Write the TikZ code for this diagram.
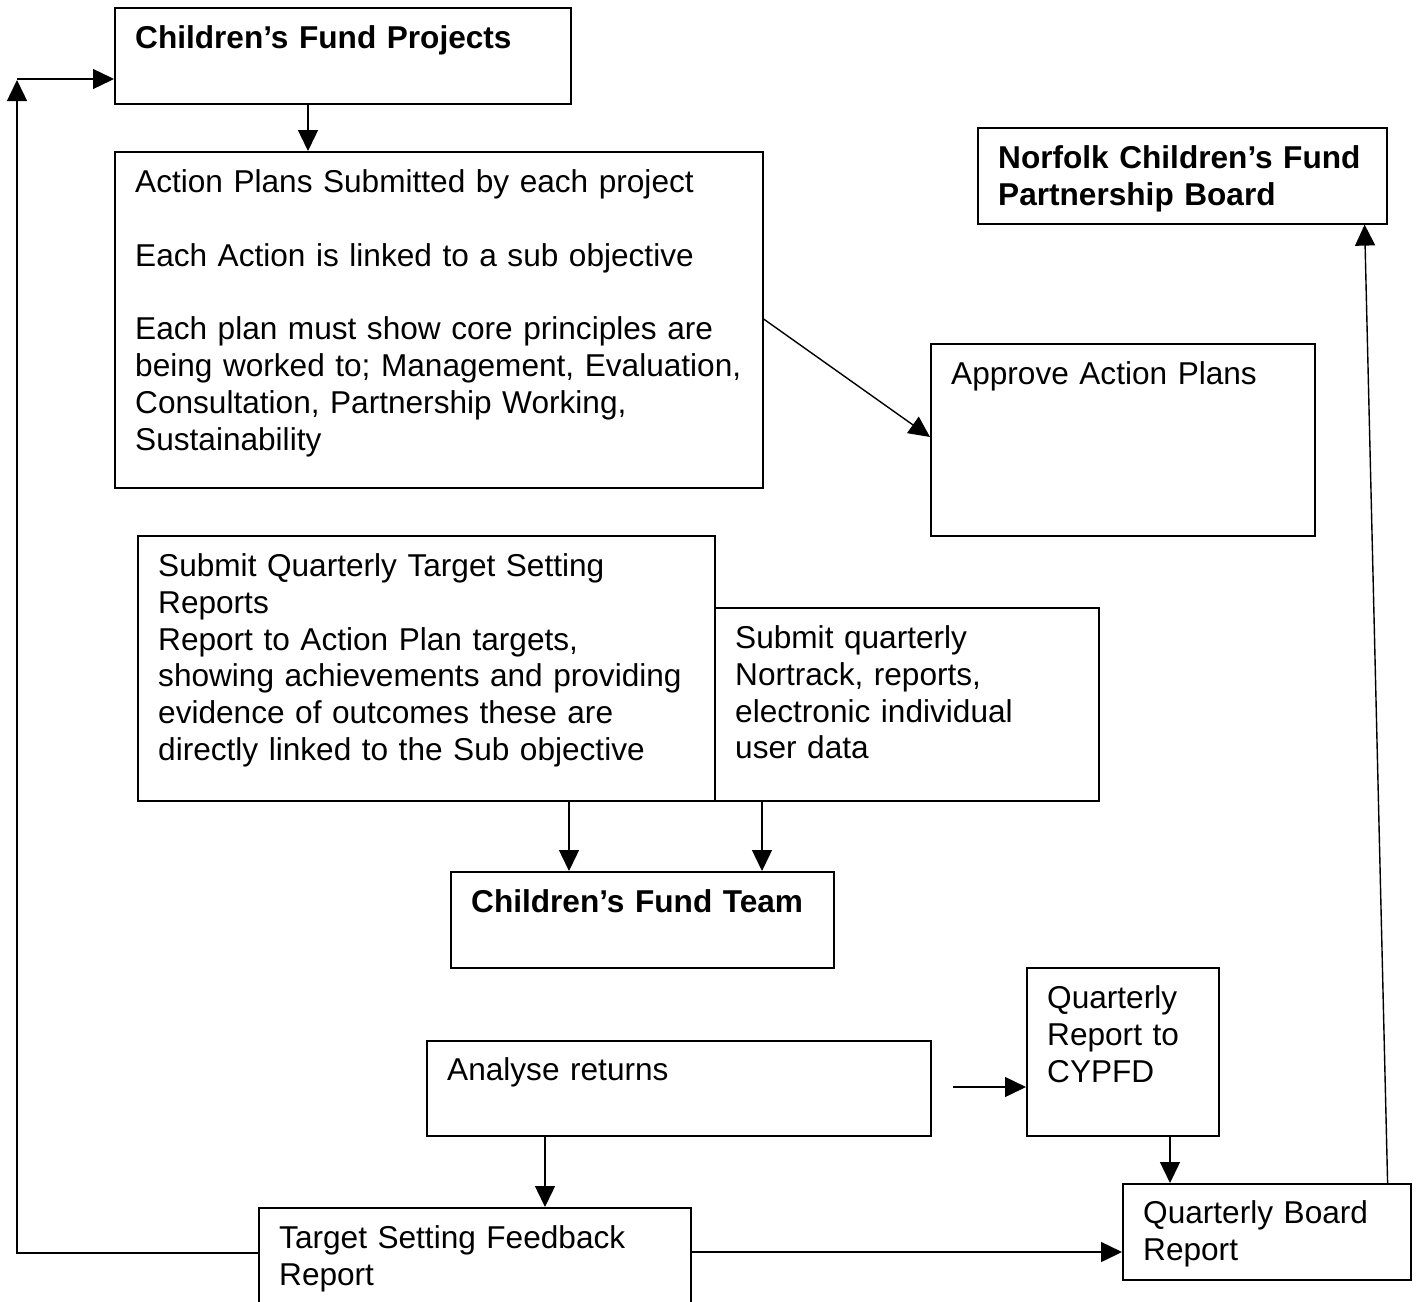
\documentclass[tikz,border=0pt]{standalone}
\usepackage{fontspec}
\setmainfont{Liberation Sans}
\usetikzlibrary{arrows.meta}
\begin{document}
\begin{tikzpicture}[x=1pt,y=-1pt,
  box/.style={draw, line width=1.6pt, anchor=north west, inner sep=0pt},
  txt/.style={anchor=base west, inner sep=0pt, align=left, text width=#1, font=\fontsize{31.6}{36.8}\selectfont},
  arr/.style={line width=1.4pt, -{Triangle[length=21pt,width=20pt]}},
  lin/.style={line width=1.4pt}]
\clip (0,0) rectangle (1416,1301);
\fill[white] (0,0) rectangle (1416,1301);
% boxes
\node[box, minimum width=456pt, minimum height=96pt] (proj) at (114,7) {};
\node[box, minimum width=648pt, minimum height=336pt] (plans) at (114,151) {};
\node[box, minimum width=409pt, minimum height=96pt] (norfolk) at (977,127) {};
\node[box, minimum width=384pt, minimum height=192pt] (approve) at (930,343) {};
\node[box, minimum width=577pt, minimum height=265pt] (submitq) at (137,535) {};
\node[box, minimum width=384pt, minimum height=193pt] (nortrack) at (714,607) {};
\node[box, minimum width=383pt, minimum height=96pt] (team) at (450,871) {};
\node[box, minimum width=192pt, minimum height=168pt] (cypfd) at (1026,967) {};
\node[box, minimum width=504pt, minimum height=95pt] (analyse) at (426,1040) {};
\node[box, minimum width=288pt, minimum height=96pt] (board) at (1122,1183) {};
\node[box, minimum width=432pt, minimum height=130pt] (feedback) at (258,1207) {};
% texts
\node[txt=426pt] (projT) at ([xshift=21pt,yshift=-41.5pt]proj.north west) {\textbf{Children’s Fund Projects}};
\node[txt=618pt] (plansT) at ([xshift=21pt,yshift=-41.5pt]plans.north west) {Action Plans Submitted by each project\\[36.8pt]
Each Action is linked to a sub objective\\[36.8pt]
Each plan must show core principles are\\
being worked to; Management, Evaluation,\\
Consultation, Partnership Working,\\
Sustainability};
\node[txt=379pt] (norfolkT) at ([xshift=21pt,yshift=-41.5pt]norfolk.north west) {\textbf{Norfolk Children’s Fund}\\\textbf{Partnership Board}};
\node[txt=354pt] (approveT) at ([xshift=21pt,yshift=-41.5pt]approve.north west) {Approve Action Plans};
\node[txt=547pt] (submitqT) at ([xshift=21pt,yshift=-41.5pt]submitq.north west) {Submit Quarterly Target Setting\\
Reports\\
Report to Action Plan targets,\\
showing achievements and providing\\
evidence of outcomes these are\\
directly linked to the Sub objective};
\node[txt=354pt] (nortrackT) at ([xshift=21pt,yshift=-41.5pt]nortrack.north west) {Submit quarterly\\Nortrack, reports,\\electronic individual\\user data};
\node[txt=353pt] (teamT) at ([xshift=21pt,yshift=-41.5pt]team.north west) {\textbf{Children’s Fund Team}};
\node[txt=162pt] (cypfdT) at ([xshift=21pt,yshift=-41.5pt]cypfd.north west) {Quarterly\\Report to\\CYPFD};
\node[txt=474pt] (analyseT) at ([xshift=21pt,yshift=-40pt]analyse.north west) {Analyse returns};
\node[txt=258pt] (boardT) at ([xshift=21pt,yshift=-40.5pt]board.north west) {Quarterly Board\\Report};
\node[txt=402pt] (feedbackT) at ([xshift=21pt,yshift=-41.5pt]feedback.north west) {Target Setting Feedback\\Report};
% connectors
\draw[arr] ([xshift=194pt]proj.south west) -- ([xshift=194pt]proj.south west |- plans.north);
\draw[arr] ([yshift=-168pt]plans.north east) -- ([yshift=-94pt]approve.north west);
\draw[arr] ([xshift=432pt]submitq.south west) -- ([xshift=432pt]submitq.south west |- team.north);
\draw[arr] ([xshift=48pt]nortrack.south west) -- ([xshift=48pt]nortrack.south west |- team.north);
\draw[arr] ([xshift=119pt]analyse.south west) -- ([xshift=119pt]analyse.south west |- feedback.north);
\coordinate (qstart) at (953,1087);
\draw[arr] (qstart) -- (qstart -| cypfd.west);
\draw[arr] ([xshift=144pt]cypfd.south west) -- ([xshift=144pt]cypfd.south west |- board.north);
\draw[arr] ([xshift=-24pt]board.north east) -- ([xshift=-23pt]norfolk.south east);
\draw[arr] ([yshift=-45pt]feedback.north east) -- ([yshift=-45pt]feedback.north east -| board.west);
\coordinate (loopc) at (17,80);
\draw[arr] ([yshift=-46pt]feedback.north west) -| (loopc);
\draw[arr] ([yshift=1pt]loopc) -- ([yshift=1pt]loopc -| proj.west);
\end{tikzpicture}
\end{document}
